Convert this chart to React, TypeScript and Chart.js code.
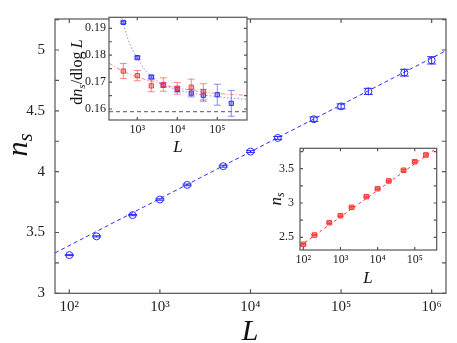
import React, { useEffect, useRef } from "react";
import { Chart, registerables } from "chart.js";
Chart.register(...registerables);

const W = 457;
const H = 343;
const SERIF = '"Liberation Serif", "DejaVu Serif", serif';
const BLUE = "rgb(45,45,255)";
const BLUE_A = "rgba(45,45,255,0.55)";
const RED = "rgb(255,55,55)";
const RED_A = "rgba(255,55,55,0.6)";
const AXIS = "#555";

// ---------- main plot ----------
const mainL = [100, 200, 500, 1000, 2000, 5000, 10000, 20000, 50000, 100000, 200000, 500000, 1000000];
const mainNs = [3.314, 3.468, 3.643, 3.771, 3.891, 4.045, 4.165, 4.277, 4.431, 4.537, 4.66, 4.814, 4.915];
const mainErr = [0.004, 0.005, 0.005, 0.006, 0.007, 0.008, 0.008, 0.012, 0.018, 0.02, 0.025, 0.028, 0.03];
const mainFitL = [69.5, 1440000];
const mainFitNs = [3.332, 4.995];
const mainXTicks = [1e2, 1e3, 1e4, 1e5, 1e6];
const mainYTicks = [3, 3.25, 3.5, 3.75, 4, 4.25, 4.5, 4.75, 5, 5.25];

// ---------- inset 1: dn_s / dlog L ----------
const derivL = [447, 1000, 2236, 4472, 10000, 22361, 44721, 100000, 223607];
const derivBlue = [0.1922, 0.1791, 0.1719, 0.1689, 0.1673, 0.1659, 0.1651, 0.1653, 0.1621];
const derivBlueErr = [0.0004, 0.0005, 0.0005, 0.0008, 0.001, 0.0014, 0.0022, 0.0039, 0.0048];
const derivRedL = [447, 1000, 2236, 4472, 10000, 22361, 44721];
const derivRed = [0.1741, 0.1724, 0.1686, 0.1691, 0.1677, 0.1681, 0.1664];
const derivRedErr = [0.0028, 0.0019, 0.0022, 0.0025, 0.0022, 0.003, 0.003];
const blueCurveL = [407, 447, 550, 700, 1000, 1500, 2236, 4472, 10000, 22361, 44721, 100000, 223607, 553000];
const blueCurve = [0.1941, 0.1918, 0.1872, 0.183, 0.179, 0.1748, 0.1721, 0.169, 0.1672, 0.166, 0.1652, 0.1646, 0.164, 0.1636];
const redCurveL = [196, 447, 1000, 2236, 4472, 10000, 22361, 44721, 100000, 223607, 553000];
const redCurve = [0.177, 0.174, 0.1719, 0.1703, 0.169, 0.1679, 0.167, 0.1663, 0.1658, 0.1654, 0.1651];
const asymL = [196, 553000];
const asymVal = [0.159, 0.159];
const in1XTicks = [1e3, 1e4, 1e5];
const in1YTicks = [0.16, 0.165, 0.17, 0.175, 0.18, 0.185, 0.19];

// ---------- inset 2: n_s (red) ----------
const nsL = [100, 200, 500, 1000, 2000, 5000, 10000, 20000, 50000, 100000, 200000];
const nsRed = [2.398, 2.533, 2.713, 2.815, 2.937, 3.092, 3.208, 3.321, 3.477, 3.602, 3.7];
const nsRedErr = [0.01, 0.01, 0.01, 0.01, 0.01, 0.01, 0.012, 0.012, 0.014, 0.015, 0.016];
const nsFitL = [81.5, 390000];
const nsFitVal = [2.375, 3.8];
const in2XTicks = [1e2, 1e3, 1e4, 1e5];
const in2YTicks = [2.5, 2.75, 3, 3.25, 3.5, 3.75];

const SUP: Record<number, string> = { 2: "\u00b2", 3: "\u00b3", 4: "\u2074", 5: "\u2075", 6: "\u2076" };
const decade = (v: number) => "10" + SUP[Math.round(Math.log10(v))];

const pts = (xs: number[], ys: number[]) => xs.map((x, i) => ({ x, y: ys[i] }));

type Seg = { text: string; font: string; dy?: number };
type TitleItem = { x: number; y: number; rot?: number; segs: Seg[] };

function drawRich(ctx: CanvasRenderingContext2D, it: TitleItem) {
  ctx.save();
  ctx.translate(it.x, it.y);
  if (it.rot) ctx.rotate(it.rot);
  ctx.fillStyle = "#111";
  ctx.textBaseline = "alphabetic";
  ctx.textAlign = "left";
  const widths = it.segs.map((s) => {
    ctx.font = s.font;
    return ctx.measureText(s.text).width;
  });
  let cx = -widths.reduce((a, b) => a + b, 0) / 2;
  it.segs.forEach((s, i) => {
    ctx.font = s.font;
    ctx.fillText(s.text, cx, s.dy || 0);
    cx += widths[i];
  });
  ctx.restore();
}

function makePlugins(tickLen: number, titles: TitleItem[], whiteBg: boolean) {
  return [
    {
      id: "bg",
      beforeDraw(chart: any) {
        if (!whiteBg) return;
        const { ctx, chartArea: a } = chart;
        ctx.save();
        ctx.fillStyle = "#fff";
        ctx.fillRect(a.left, a.top, a.right - a.left, a.bottom - a.top);
        ctx.restore();
      },
    },
    {
      id: "errbars",
      beforeDatasetDraw(chart: any, args: any) {
        const ds = chart.data.datasets[args.index];
        if (!ds.errors) return;
        const { ctx, chartArea: a } = chart;
        const ys = chart.scales.y;
        ctx.save();
        ctx.beginPath();
        ctx.rect(a.left, a.top, a.right - a.left, a.bottom - a.top);
        ctx.clip();
        ctx.strokeStyle = ds.errColor;
        ctx.lineWidth = ds.errWidth || 1;
        const c = ds.capWidth / 2;
        args.meta.data.forEach((pt: any, j: number) => {
          const v = ds.data[j].y;
          const e = ds.errors[j];
          const y1 = ys.getPixelForValue(v - e);
          const y2 = ys.getPixelForValue(v + e);
          const x = pt.x;
          ctx.beginPath();
          ctx.moveTo(x, y1);
          ctx.lineTo(x, y2);
          ctx.moveTo(x - c, y1);
          ctx.lineTo(x + c, y1);
          ctx.moveTo(x - c, y2);
          ctx.lineTo(x + c, y2);
          ctx.stroke();
        });
        ctx.restore();
      },
    },
    {
      id: "frame",
      afterDraw(chart: any) {
        const { ctx, chartArea: a } = chart;
        const xs = chart.scales.x;
        const ys = chart.scales.y;
        ctx.save();
        ctx.strokeStyle = AXIS;
        ctx.lineWidth = 1.2;
        ctx.beginPath();
        xs.ticks.forEach((t: any) => {
          const p = xs.getPixelForValue(t.value);
          ctx.moveTo(p, a.bottom);
          ctx.lineTo(p, a.bottom - tickLen);
          ctx.moveTo(p, a.top);
          ctx.lineTo(p, a.top + tickLen);
        });
        ys.ticks.forEach((t: any) => {
          const p = ys.getPixelForValue(t.value);
          ctx.moveTo(a.left, p);
          ctx.lineTo(a.left + tickLen, p);
          ctx.moveTo(a.right, p);
          ctx.lineTo(a.right - tickLen, p);
        });
        ctx.stroke();
        ctx.strokeRect(a.left, a.top, a.right - a.left, a.bottom - a.top);
        ctx.restore();
        titles.forEach((t) => drawRich(ctx, t));
      },
    },
  ];
}

type Cfg = {
  area: { l: number; t: number; r: number; b: number };
  xMin: number;
  xMax: number;
  yMin: number;
  yMax: number;
  xTicks: number[];
  yTicks: number[];
  yLabel: (v: number) => string;
  fontSize: number;
  xPad: number;
  yPad: number;
  tickLen: number;
  titles: TitleItem[];
  whiteBg: boolean;
  datasets: any[];
};

function makeConfig(c: Cfg): any {
  const font = { family: SERIF, size: c.fontSize };
  return {
    type: "scatter",
    data: { datasets: c.datasets },
    options: {
      responsive: false,
      animation: false,
      devicePixelRatio: 1,
      events: [],
      layout: { padding: { left: 0, top: c.area.t, right: W - c.area.r, bottom: 0 } },
      plugins: { legend: { display: false }, tooltip: { enabled: false } },
      scales: {
        x: {
          type: "logarithmic",
          min: c.xMin,
          max: c.xMax,
          afterBuildTicks: (s: any) => {
            s.ticks = c.xTicks.map((v) => ({ value: v }));
          },
          afterFit: (s: any) => {
            s.height = H - c.area.b;
          },
          grid: { display: false, drawTicks: false },
          border: { display: false },
          ticks: { autoSkip: false, maxRotation: 0, padding: c.xPad, font, color: "#222", callback: (v: any) => decade(Number(v)) },
        },
        y: {
          type: "linear",
          min: c.yMin,
          max: c.yMax,
          afterBuildTicks: (s: any) => {
            s.ticks = c.yTicks.map((v) => ({ value: v }));
          },
          afterFit: (s: any) => {
            s.width = c.area.l;
          },
          grid: { display: false, drawTicks: false },
          border: { display: false },
          ticks: { autoSkip: false, padding: c.yPad, font, color: "#222", callback: (v: any) => c.yLabel(Number(v)) },
        },
      },
    },
    plugins: makePlugins(c.tickLen, c.titles, c.whiteBg),
  };
}

const fmtStep = (step: number, digits: number) => (v: number) =>
  Math.abs(v / step - Math.round(v / step)) < 1e-6 ? String(Number(v.toFixed(digits))) : "";

function mainConfig() {
  return makeConfig({
    area: { l: 55, t: 10.7, r: 446, b: 293.3 },
    xMin: 69.5,
    xMax: 1440000,
    yMin: 3,
    yMax: 5.255,
    xTicks: mainXTicks,
    yTicks: mainYTicks,
    yLabel: fmtStep(0.5, 1),
    fontSize: 15,
    xPad: 5,
    yPad: 10,
    tickLen: 4,
    whiteBg: false,
    titles: [
      { x: 250, y: 340, segs: [{ text: "L", font: `italic 30px ${SERIF}` }] },
      {
        x: 27,
        y: 145,
        rot: -Math.PI / 2,
        segs: [
          { text: "n", font: `italic 30px ${SERIF}` },
          { text: "s", font: `italic 21px ${SERIF}`, dy: 5 },
        ],
      },
    ],
    datasets: [
      {
        data: pts(mainFitL, mainFitNs),
        showLine: true,
        borderColor: BLUE,
        borderWidth: 1,
        borderDash: [4, 3],
        pointRadius: 0,
        fill: false,
      },
      {
        data: pts(mainL, mainNs),
        pointStyle: "circle",
        pointRadius: 3.5,
        borderColor: BLUE,
        backgroundColor: "rgba(255,255,255,0)",
        borderWidth: 1,
        errors: mainErr,
        errColor: BLUE,
        capWidth: 9,
      },
    ],
  });
}

function inset1Config() {
  return makeConfig({
    area: { l: 109, t: 17.3, r: 247, b: 120 },
    xMin: 196,
    xMax: 553000,
    yMin: 0.1559,
    yMax: 0.1941,
    xTicks: in1XTicks,
    yTicks: in1YTicks,
    yLabel: fmtStep(0.01, 2),
    fontSize: 12,
    xPad: 3,
    yPad: 3,
    tickLen: 3,
    whiteBg: true,
    titles: [
      { x: 178, y: 152, segs: [{ text: "L", font: `italic 17px ${SERIF}` }] },
      {
        x: 82,
        y: 72,
        rot: -Math.PI / 2,
        segs: [
          { text: "d", font: `16px ${SERIF}` },
          { text: "n", font: `italic 16px ${SERIF}` },
          { text: "s", font: `italic 11px ${SERIF}`, dy: 3 },
          { text: "/dlog\u2009", font: `16px ${SERIF}` },
          { text: "L", font: `italic 16px ${SERIF}` },
        ],
      },
    ],
    datasets: [
      {
        data: pts(asymL, asymVal),
        showLine: true,
        borderColor: "#777",
        borderWidth: 1.3,
        borderDash: [4, 3],
        pointRadius: 0,
      },
      {
        data: pts(redCurveL, redCurve),
        showLine: true,
        borderColor: RED_A,
        borderWidth: 1,
        borderDash: [4, 2, 1, 2],
        pointRadius: 0,
        cubicInterpolationMode: "monotone",
      },
      {
        data: pts(blueCurveL, blueCurve),
        showLine: true,
        borderColor: BLUE_A,
        borderWidth: 1,
        borderDash: [1.5, 2],
        pointRadius: 0,
        cubicInterpolationMode: "monotone",
      },
      {
        data: pts(derivRedL, derivRed),
        pointStyle: "rect",
        pointRadius: 3,
        borderColor: RED,
        backgroundColor: "rgba(255,55,55,0.35)",
        borderWidth: 1,
        errors: derivRedErr,
        errColor: RED_A,
        capWidth: 7,
      },
      {
        data: pts(derivL, derivBlue),
        pointStyle: "rect",
        pointRadius: 3,
        borderColor: BLUE,
        backgroundColor: "rgba(45,45,255,0.35)",
        borderWidth: 1,
        errors: derivBlueErr,
        errColor: BLUE_A,
        capWidth: 7,
      },
    ],
  });
}

function inset2Config() {
  return makeConfig({
    area: { l: 300, t: 148.3, r: 436.7, b: 250 },
    xMin: 81.5,
    xMax: 390000,
    yMin: 2.315,
    yMax: 3.797,
    xTicks: in2XTicks,
    yTicks: in2YTicks,
    yLabel: fmtStep(0.5, 1),
    fontSize: 12,
    xPad: 3,
    yPad: 6,
    tickLen: 3,
    whiteBg: true,
    titles: [
      { x: 368, y: 283, segs: [{ text: "L", font: `italic 17px ${SERIF}` }] },
      {
        x: 281,
        y: 199,
        rot: -Math.PI / 2,
        segs: [
          { text: "n", font: `italic 17px ${SERIF}` },
          { text: "s", font: `italic 12px ${SERIF}`, dy: 3 },
        ],
      },
    ],
    datasets: [
      {
        data: pts(nsFitL, nsFitVal),
        showLine: true,
        borderColor: RED,
        borderWidth: 1,
        borderDash: [3, 3],
        pointRadius: 0,
      },
      {
        data: pts(nsL, nsRed),
        pointStyle: "rect",
        pointRadius: 3.2,
        borderColor: RED,
        backgroundColor: "rgba(255,55,55,0.4)",
        borderWidth: 1,
        errors: nsRedErr,
        errColor: RED,
        capWidth: 6,
      },
    ],
  });
}

export default function App() {
  const r1 = useRef<HTMLCanvasElement>(null);
  const r2 = useRef<HTMLCanvasElement>(null);
  const r3 = useRef<HTMLCanvasElement>(null);
  useEffect(() => {
    const charts = [
      new Chart(r1.current as HTMLCanvasElement, mainConfig()),
      new Chart(r2.current as HTMLCanvasElement, inset1Config()),
      new Chart(r3.current as HTMLCanvasElement, inset2Config()),
    ];
    return () => charts.forEach((c) => c.destroy());
  }, []);
  const cs: React.CSSProperties = { position: "absolute", left: 0, top: 0 };
  return (
    <div style={{ position: "absolute", left: 0, top: 0, width: W, height: H, background: "#fff" }}>
      <canvas ref={r1} width={W} height={H} style={cs} />
      <canvas ref={r2} width={W} height={H} style={cs} />
      <canvas ref={r3} width={W} height={H} style={cs} />
    </div>
  );
}
